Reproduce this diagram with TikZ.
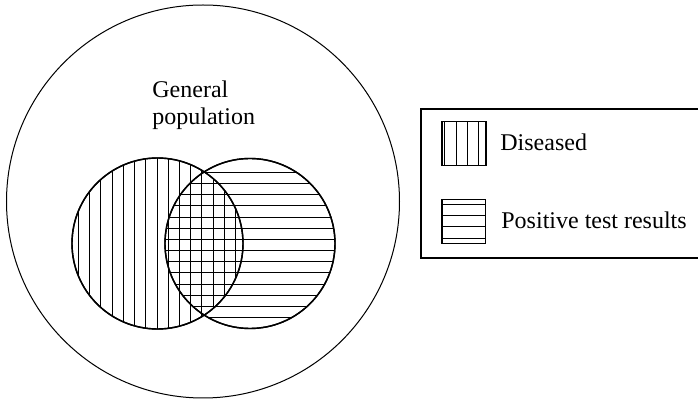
\documentclass[tikz,border=0pt]{standalone}
\usepackage{fontspec}
\setmainfont{Liberation Serif}
\begin{document}
\begin{tikzpicture}[x=0.5pt,y=-0.5pt,
  outerring/.style={circle, draw, line width=0.5pt, inner sep=0pt},
  ring/.style={circle, draw, line width=0.7pt, inner sep=0pt},
  hatch/.style={line width=0.5pt},
  swatch/.style={rectangle, draw, line width=0.6pt, inner sep=0pt, minimum width=22pt, minimum height=22pt},
  lbl/.style={font=\fontsize{12}{13.5}\selectfont, inner sep=0pt}]
\useasboundingbox (0,0) rectangle (698,400);
% general population
\node[outerring, minimum size=196.5pt] (pop) at (203,201.5) {};
% diseased (vertical hatching)
\node[ring, minimum size=85.5pt,
  path picture={\foreach \k in {-7,...,7}{
    \draw[hatch] ([xshift=\k*5.62pt-0.25pt]path picture bounding box.north) -- ([xshift=\k*5.62pt-0.25pt]path picture bounding box.south);}}]
  (dis) at (157.5,243.5) {};
% positive test results (horizontal hatching)
\node[ring, minimum size=85pt,
  path picture={\foreach \k in {-7,...,6}{
    \draw[hatch] ([yshift={-(1.5+(\k+0.5)*11.15)*0.5pt}]path picture bounding box.west) -- ([yshift={-(1.5+(\k+0.5)*11.15)*0.5pt}]path picture bounding box.east);}}]
  (pos) at (250,243.5) {};
% redraw borders on top
\draw[line width=0.7pt] (dis) circle[radius=42.75pt];
\draw[line width=0.7pt] (pos) circle[radius=42.5pt];
\node[lbl, anchor=base west, align=left] (gp) at (152,125) {General\\population};
% legend
\node[rectangle, draw, line width=0.65pt, inner sep=0pt, minimum width=140pt, minimum height=74.5pt] (legend) at (561,183.5) {};
\node[swatch, path picture={\foreach \d in {-19.3,-8,3.3,14.7}{
    \draw[hatch] ([xshift=\d*0.5pt]path picture bounding box.north) -- ([xshift=\d*0.5pt]path picture bounding box.south);}}]
  (sw1) at (464,143.7) {};
\node[swatch, minimum width=21.75pt, path picture={\foreach \d in {-16.6,-5.6,5.4,17}{
    \draw[hatch] ([yshift=-\d*0.5pt]path picture bounding box.west) -- ([yshift=-\d*0.5pt]path picture bounding box.east);}}]
  (sw2) at (463.8,221.3) {};
\node[lbl, anchor=base west] (dtext) at (500,151) {Diseased};
\node[lbl, anchor=base west] (ptext) at (501,228.3) {Positive test results};
\end{tikzpicture}
\end{document}
